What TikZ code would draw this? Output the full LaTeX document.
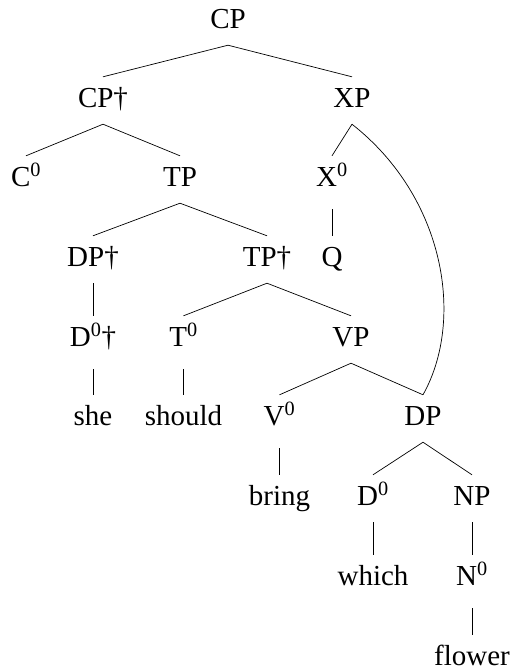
\documentclass[tikz,border=0pt]{standalone}
\usepackage{fontspec}
\setmainfont{Liberation Serif}
\newcommand{\zr}{\textsuperscript{0}}
\begin{document}
\begin{tikzpicture}[x=1pt,y=-1pt,
  tn/.style={anchor=base, inner xsep=1pt, inner ysep=0pt, text height=30pt, text depth=17pt, font=\fontsize{29}{34}\selectfont},
  hd/.style={tn, text depth=23pt},
  br/.style={line width=0.7pt}]
\useasboundingbox (0,0) rectangle (511,670);
% nodes
\node[tn] (cp) at (228,28) {CP};
\node[tn] (cpd) at (103,107) {CP†};
\node[tn] (xp) at (352,107) {XP};
\node[tn] (c0) at (26,186) {C\zr};
\node[tn] (tp) at (180,186) {TP};
\node[hd] (x0) at (332,186) {X\zr};
\node[tn] (q) at (332,266) {Q};
\node[tn] (dpd) at (93,266) {DP†};
\node[tn] (tpd) at (267,266) {TP†};
\node[hd] (d0d) at (93,346) {D\zr†};
\node[hd] (t0) at (183.5,346) {T\zr};
\node[tn] (vp) at (351,346) {VP};
\node[tn] (she) at (93,425) {she};
\node[tn] (should) at (183.5,425) {should};
\node[hd] (v0) at (279.5,425) {V\zr};
\node[tn] (dp) at (423,425) {DP};
\node[tn] (bring) at (279.5,505) {bring};
\node[tn] (d0) at (373,505) {D\zr};
\node[tn] (np) at (472,505) {NP};
\node[tn] (which) at (373,585) {which};
\node[hd] (n0) at (472,585) {N\zr};
\node[tn] (flower) at (472,665) {flower};
% branches
\draw[br] (cpd.north) -- (cp.south) -- (xp.north);
\draw[br] (c0.north) -- (cpd.south) -- (tp.north);
\draw[br] (xp.south) -- (x0.north);
\draw[br] (x0.south) -- (q.north);
\draw[br] (dpd.north) -- (tp.south) -- (tpd.north);
\draw[br] (dpd.south) -- (d0d.north);
\draw[br] (d0d.south) -- (she.north);
\draw[br] (t0.north) -- (tpd.south) -- (vp.north);
\draw[br] (t0.south) -- (should.north);
\draw[br] (v0.north) -- (vp.south) -- (dp.north);
\draw[br] (v0.south) -- (bring.north);
\draw[br] (d0.north) -- (dp.south) -- (np.north);
\draw[br] (d0.south) -- (which.north);
\draw[br] (np.south) -- (n0.north);
\draw[br] (n0.south) -- (flower.north);
\draw[br] (xp.south) .. controls +(93,73) and +(42,-75) .. (dp.north);
\end{tikzpicture}
\end{document}
